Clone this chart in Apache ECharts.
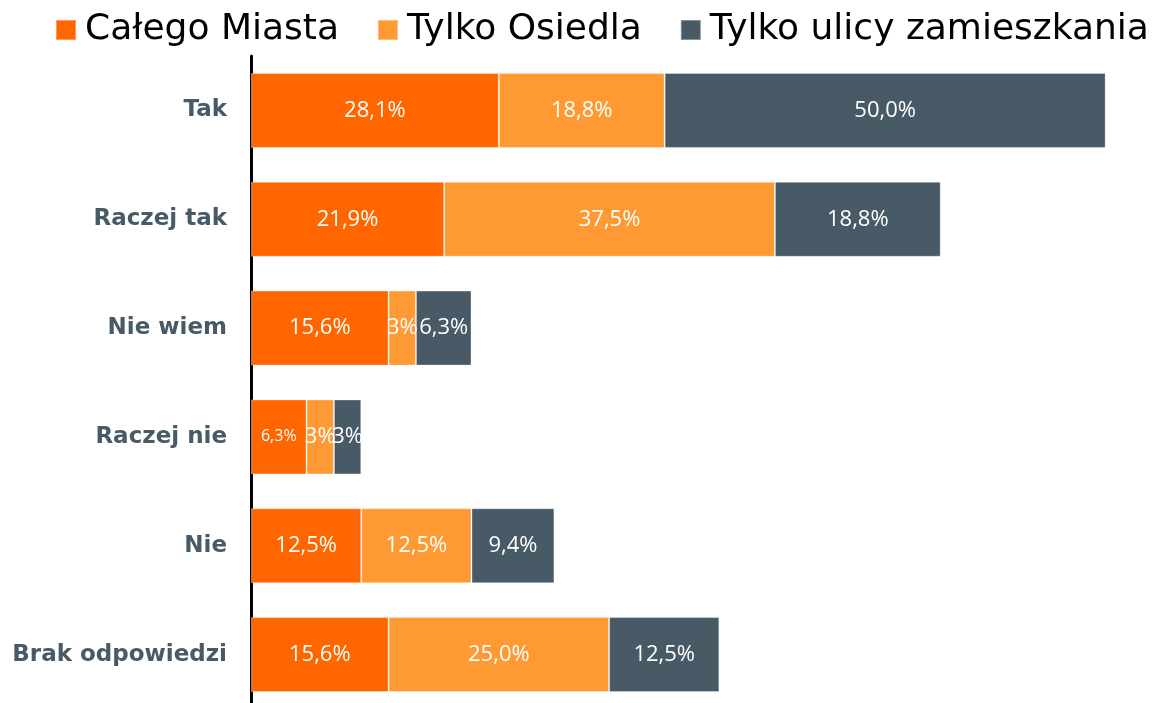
<!DOCTYPE html>
<html>
<head>
<meta charset="utf-8">
<script src="https://cdn.jsdelivr.net/npm/echarts@6/dist/echarts.min.js"></script>
<style>
  html, body { margin: 0; padding: 0; background: #fff; overflow: hidden; }
  #chart { width: 1159px; height: 712px; }
</style>
</head>
<body>
<div id="chart"></div>
<script>
const categories = ['Tak', 'Raczej tak', 'Nie wiem', 'Raczej nie', 'Nie', 'Brak odpowiedzi'];
const seriesNames = ['Całego Miasta', 'Tylko Osiedla', 'Tylko ulicy zamieszkania'];
const calegoMiasta = [28.1, 21.9, 15.6, 6.3, 12.5, 15.6];
const tylkoOsiedla = [18.8, 37.5, 3.1, 3.1, 12.5, 25.0];
const tylkoUlicy = [50.0, 18.8, 6.3, 3.1, 9.4, 12.5];
const colors = ['#ff6600', '#ff9933', '#475a66'];

const fmt = p => p.value < 5 ? Math.round(p.value) + '%' : p.value.toFixed(1).replace('.', ',') + '%';

// chart draws top category first
const cats = categories.slice().reverse();
const rev = a => a.slice().reverse();

function makeSeries(name, data, color) {
  return {
    name: name,
    type: 'bar',
    stack: 'total',
    barWidth: 75,
    data: rev(data).map((v, i) => {
      const d = { value: v };
      if (cats[i] === 'Raczej nie' && v > 5) d.label = { fontSize: 16 };
      return d;
    }),
    itemStyle: { color: color, borderColor: 'rgba(255,255,255,0.35)', borderWidth: 1 },
    label: {
      show: true,
      position: 'inside',
      color: '#fff',
      fontFamily: 'Open Sans',
      fontSize: 22,
      formatter: fmt
    }
  };
}

const chart = echarts.init(document.getElementById('chart'));
chart.setOption({
  animation: false,
  color: colors,
  legend: {
    top: 7,
    left: 50,
    itemWidth: 20,
    itemHeight: 20,
    itemGap: 38,
    icon: 'rect',
    textStyle: { fontFamily: 'DejaVu Sans', fontSize: 36, color: '#000', padding: [0, 0, 0, 4] },
    data: seriesNames
  },
  grid: { left: 251, top: 56, width: 882, bottom: 3 },
  xAxis: {
    type: 'value',
    min: 0,
    max: 100,
    show: false
  },
  yAxis: {
    type: 'category',
    data: cats,
    axisLine: { show: true, lineStyle: { color: '#000', width: 3 } },
    axisTick: { show: false },
    axisLabel: {
      color: '#475a66',
      fontWeight: 'bold',
      fontFamily: 'DejaVu Sans',
      fontSize: 23,
      margin: 24
    }
  },
  series: [
    makeSeries(seriesNames[0], calegoMiasta, colors[0]),
    makeSeries(seriesNames[1], tylkoOsiedla, colors[1]),
    makeSeries(seriesNames[2], tylkoUlicy, colors[2])
  ]
});
</script>
</body>
</html>
